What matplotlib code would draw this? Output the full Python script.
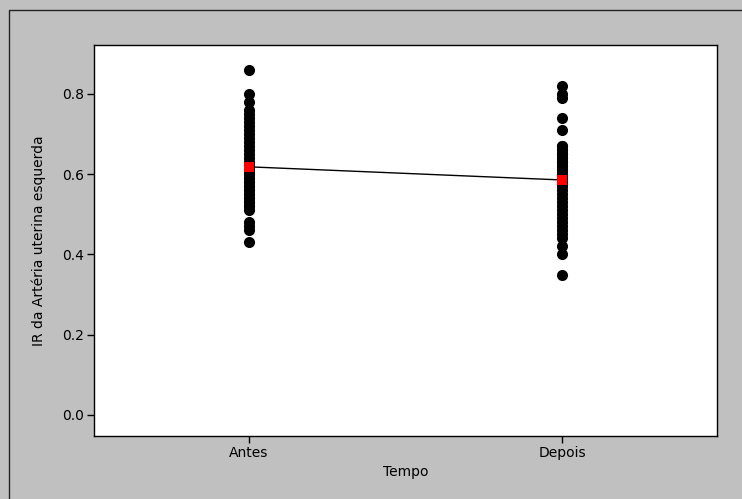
import matplotlib
matplotlib.use("Agg")
import matplotlib.pyplot as plt
from matplotlib.lines import Line2D
import numpy as np

categories = ["Antes", "Depois"]
antes = [0.86, 0.80, 0.78, 0.76, 0.75, 0.74, 0.73, 0.72, 0.71, 0.70, 0.69, 0.68,
         0.67, 0.66, 0.65, 0.64, 0.63, 0.62, 0.62, 0.61, 0.60, 0.60, 0.59, 0.58,
         0.58, 0.57, 0.56, 0.56, 0.55, 0.54, 0.54, 0.53, 0.53, 0.52, 0.52, 0.51,
         0.48, 0.47, 0.46, 0.43]
depois = [0.82, 0.80, 0.79, 0.74, 0.71, 0.67, 0.67, 0.66, 0.66, 0.65, 0.65, 0.64,
          0.64, 0.63, 0.63, 0.62, 0.62, 0.61, 0.61, 0.60, 0.60, 0.59, 0.58, 0.57,
          0.56, 0.55, 0.54, 0.53, 0.52, 0.51, 0.50, 0.49, 0.48, 0.47, 0.46, 0.45,
          0.44, 0.42, 0.40, 0.35]
yticks = [0.0, 0.2, 0.4, 0.6, 0.8]

plt.rcParams['font.family'] = ['DejaVu Sans']
W, H = 742, 499
fig = plt.figure(figsize=(W/100, H/100), dpi=100, facecolor='#C0C0C0')

# outer border (top and left visible)
fig.add_artist(Line2D([9/W, 9/W, 1.0], [0.0, 1-10/H, 1-10/H], transform=fig.transFigure,
                      color='#222222', lw=1.0))

ax = fig.add_axes([94/W, 1-436/H, (717-94)/W, (436-45)/H])
ax.set_facecolor('white')

xs = [1, 2]
for x, vals in zip(xs, [antes, depois]):
    ax.plot([x]*len(vals), vals, 'o', color='black', markersize=8.0, markeredgewidth=0, zorder=2)
means = [np.mean(antes), np.mean(depois)]
ax.plot(xs, means, '-', color='black', lw=1.0, zorder=3)
ax.plot(xs, means, 's', color='red', markersize=7.2, markeredgewidth=0, zorder=4)

ax.set_xlim(0.505, 2.495)
ax.set_ylim(-(436-415)/401.25, (415-45)/401.25)
ax.set_xticks(xs)
ax.set_xticklabels(categories)
ax.set_yticks(yticks)
ax.set_yticklabels([f"{v:.1f}" for v in yticks])
ax.tick_params(direction='out', length=5, width=1, labelsize=10, colors='black', pad=2)
for s in ax.spines.values():
    s.set_color('black')
    s.set_linewidth(1.0)

ax.set_xlabel("Tempo", fontsize=10, labelpad=4)
ax.set_ylabel("IR da Artéria uterina esquerda", fontsize=10, labelpad=12)

fig.savefig("out.png", dpi=100, facecolor=fig.get_facecolor())
